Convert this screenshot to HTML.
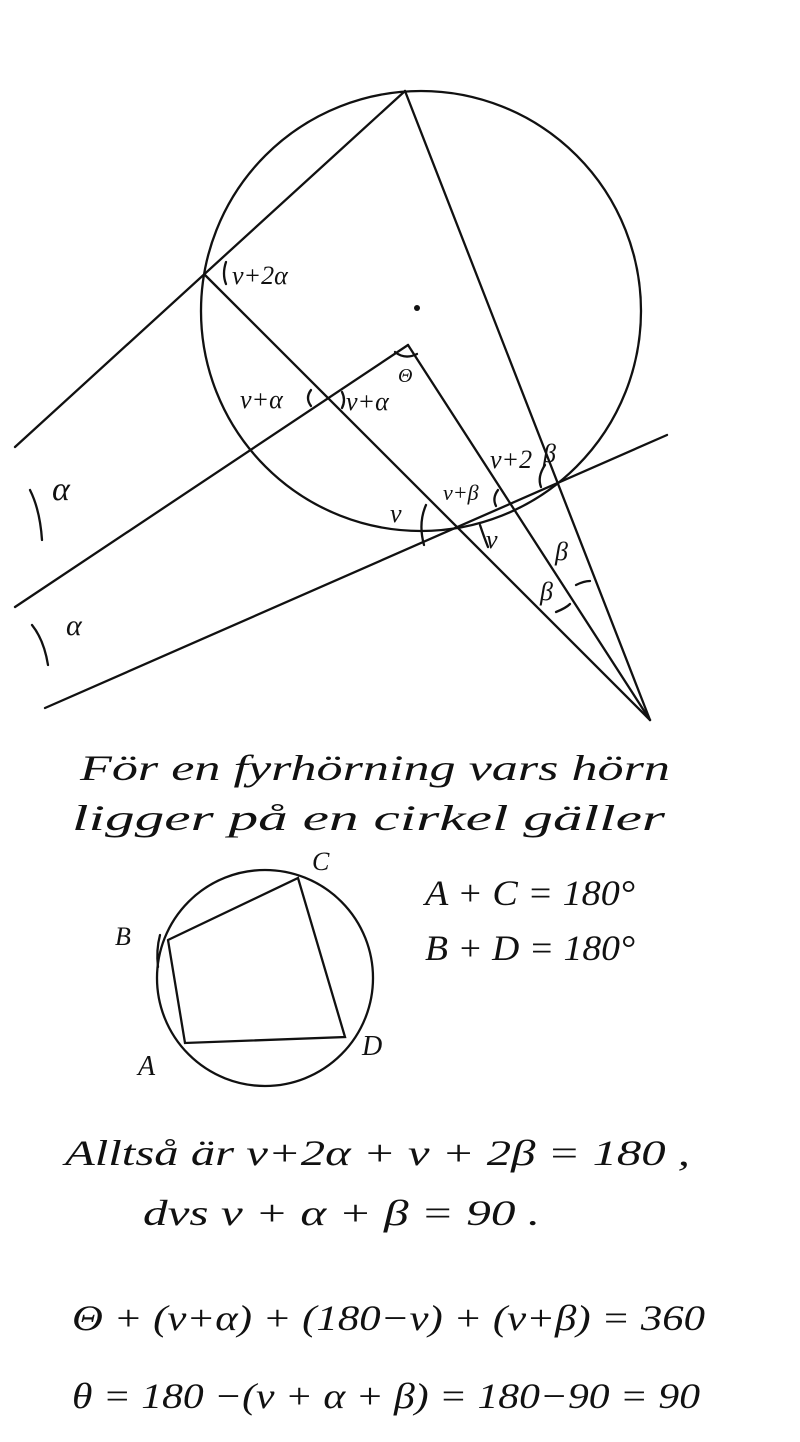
<!DOCTYPE html>
<html><head><meta charset="utf-8"><style>
html,body{margin:0;padding:0;background:#fff;}
svg{display:block}
text{font-family:"Liberation Serif",serif;font-style:italic;fill:#111;}
</style></head><body>
<svg width="800" height="1442" viewBox="0 0 800 1442" xmlns="http://www.w3.org/2000/svg">
<g stroke="#111" stroke-width="2.3" fill="none" stroke-linecap="round">
<circle cx="421" cy="311" r="220"/>
<line x1="15" y1="447" x2="405" y2="91"/>
<line x1="405" y1="91" x2="650" y2="720"/>
<line x1="205" y1="275" x2="650" y2="720"/>
<line x1="15" y1="607" x2="408" y2="345"/>
<line x1="408" y1="345" x2="650" y2="720"/>
<line x1="45" y1="708" x2="667" y2="435"/>
<path d="M226 262 q-4 12 0 22"/>
<path d="M311 390 q-6 8 0 16"/>
<path d="M342 392 q4 8 0 16"/>
<path d="M395 352 q10 8 22 2"/>
<path d="M545 465 q-8 12 -4 22"/>
<path d="M498 490 q-6 8 -2 16"/>
<path d="M426 505 q-8 18 -2 40"/>
<path d="M480 525 q4 12 8 22"/>
<path d="M576 585 q8 -4 14 -4"/>
<path d="M556 612 q10 -4 14 -8"/>
<path d="M30 490 q10 20 12 50"/>
<path d="M32 625 q12 15 16 40"/>
<circle cx="265" cy="978" r="108"/>
<polyline points="168,940 298,878 345,1037 185,1043 168,940"/>
<path d="M160 935 q-4 15 -2 32"/>
</g>
<circle cx="417" cy="308" r="3" fill="#111"/>
<g font-size="26">
<text x="232" y="284">v+2α</text>
<text x="240" y="408">v+α</text>
<text x="346" y="410">v+α</text>
<text x="398" y="382" font-size="20">Θ</text>
<text x="490" y="468">v+2</text>
<text x="543" y="462">β</text>
<text x="443" y="500" font-size="22">v+β</text>
<text x="390" y="522">v</text>
<text x="486" y="548">v</text>
<text x="555" y="560">β</text>
<text x="540" y="600">β</text>
<text x="52" y="500" font-size="34">α</text>
<text x="66" y="635" font-size="30">α</text>
</g>
<g font-size="36">
<text x="80" y="780" textLength="590" lengthAdjust="spacingAndGlyphs">För en fyrhörning vars hörn</text>
<text x="72" y="830" textLength="593" lengthAdjust="spacingAndGlyphs">ligger på en cirkel gäller</text>
<text x="312" y="870" font-size="26">C</text>
<text x="115" y="945" font-size="26">B</text>
<text x="138" y="1075" font-size="28">A</text>
<text x="362" y="1055" font-size="28">D</text>
<text x="425" y="905" textLength="210" lengthAdjust="spacingAndGlyphs">A + C = 180°</text>
<text x="425" y="960" textLength="210" lengthAdjust="spacingAndGlyphs">B + D = 180°</text>
<text x="65" y="1165" textLength="625" lengthAdjust="spacingAndGlyphs">Alltså är v+2α + v + 2β = 180 ,</text>
<text x="143" y="1225" textLength="397" lengthAdjust="spacingAndGlyphs">dvs v + α + β = 90 .</text>
<text x="72" y="1330" textLength="633" lengthAdjust="spacingAndGlyphs">Θ + (v+α) + (180−v) + (v+β) = 360</text>
<text x="72" y="1408" textLength="628" lengthAdjust="spacingAndGlyphs">θ = 180 −(v + α + β) = 180−90 = 90</text>
</g>
</svg>
</body></html>
